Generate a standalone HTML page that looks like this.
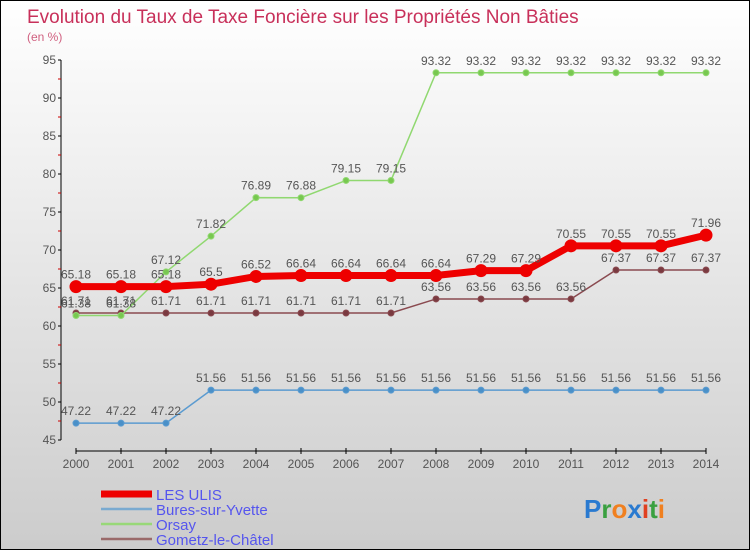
<!DOCTYPE html>
<html><head><meta charset="utf-8"><style>
body{margin:0;}
#c{width:748px;height:548px;border:1px solid #000;background:linear-gradient(#fff,#ccc);position:relative;overflow:hidden;font-family:"Liberation Sans",sans-serif;}
svg{position:absolute;left:0;top:0}
</style></head><body>
<div id="c">
<svg id="s" width="748" height="548"></svg>
</div>
<script>
const years=[2000,2001,2002,2003,2004,2005,2006,2007,2008,2009,2010,2011,2012,2013,2014];
const lesUlis=[65.18,65.18,65.18,65.5,66.52,66.64,66.64,66.64,66.64,67.29,67.29,70.55,70.55,70.55,71.96];
const bures=[47.22,47.22,47.22,51.56,51.56,51.56,51.56,51.56,51.56,51.56,51.56,51.56,51.56,51.56,51.56];
const orsay=[61.38,61.38,67.12,71.82,76.89,76.88,79.15,79.15,93.32,93.32,93.32,93.32,93.32,93.32,93.32];
const gometz=[61.71,61.71,61.71,61.71,61.71,61.71,61.71,61.71,63.56,63.56,63.56,63.56,67.37,67.37,67.37];
const yTicks=[45,50,55,60,65,70,75,80,85,90,95];
const NS='http://www.w3.org/2000/svg';
const s=document.getElementById('s');
function X(i){return 75+i*(630/14);}
function Y(v){return 439-(v-45)*7.6;}
function el(t,a,p){const e=document.createElementNS(NS,t);for(const k in a)e.setAttribute(k,a[k]);(p||s).appendChild(e);return e;}
function tx(x,y,str,a){const e=el('text',Object.assign({x:x,y:y,'font-size':12,fill:'#555'},a||{}));e.textContent=str;return e;}
let t=tx(26,22,'Evolution du Taux de Taxe Foncière sur les Propriétés Non Bâties',{'font-size':19,fill:'#c8305a'});


t=tx(26,40,'(en %)',{'font-size':12,fill:'#d06080'});


let ax=el('line',{x1:60,y1:Y(95),x2:60,y2:Y(45),stroke:'#000'});


yTicks.forEach(v=>{el('line',{x1:57,x2:60,y1:Y(v),y2:Y(v),stroke:'#000'});
 if(v<95) el('line',{x1:57,x2:60,y1:Y(v+2.5),y2:Y(v+2.5),stroke:'#c00'});
 const l=tx(55,Y(v)+4,String(v),{'text-anchor':'end'});
 
 });
ax=el('line',{x1:75,y1:450,x2:X(14),y2:450,stroke:'#000'});


years.forEach((yr,i)=>{el('line',{x1:X(i),x2:X(i),y1:447,y2:453,stroke:'#000'});
 const l=tx(X(i),467,String(yr),{'text-anchor':'middle'});
 
 });
function series(vals,color,w,r,name,fill){
 const g=el('g',{});
 
 
 el('polyline',{points:vals.map((v,i)=>X(i)+','+Y(v)).join(' '),fill:'none',stroke:color,'stroke-width':w},g);
 vals.forEach((v,i)=>{const c=el('circle',{cx:X(i),cy:Y(v),r:r,fill:fill,stroke:color,'stroke-width':1},g);
  
  
  const l=tx(X(i),Y(v)-8,String(v),{'text-anchor':'middle'},g);
  
  });
}
series(bures,'#5b9bd0',1.5,3,'bures','#4a90c8');
series(gometz,'#8a4a50',1.5,3,'gometz','#7a3a40');
series(orsay,'#90d870',1.5,3,'orsay','#78c850');
series(lesUlis,'#ee0000',7,6,'les-ulis','#ee0000');
const leg=[['LES ULIS','#ee0000',7],['Bures-sur-Yvette','#7aaad0',2.5],['Orsay','#98d878',2.5],['Gometz-le-Châtel','#9a6a6a',2.5]];
leg.forEach((d,i)=>{const y=493+i*15;
 const g=el('g',{});
 
 
 el('line',{x1:100,x2:151,y1:y,y2:y,stroke:d[1],'stroke-width':d[2]},g);
 tx(155,y+6,d[0],{'font-size':15,fill:'#5555ee'},g);});
const lg=el('text',{x:583,y:517,'font-size':26,'font-weight':'bold'});


[['P','#2a7ad0'],['r','#3aa040'],['o','#f08020'],['x','#2a7ad0'],['i','#e04020'],['t','#3aa040'],['i','#f08020']].forEach(c=>{const sp=el('tspan',{fill:c[1]},lg);sp.textContent=c[0];});
</script>
</body></html>
